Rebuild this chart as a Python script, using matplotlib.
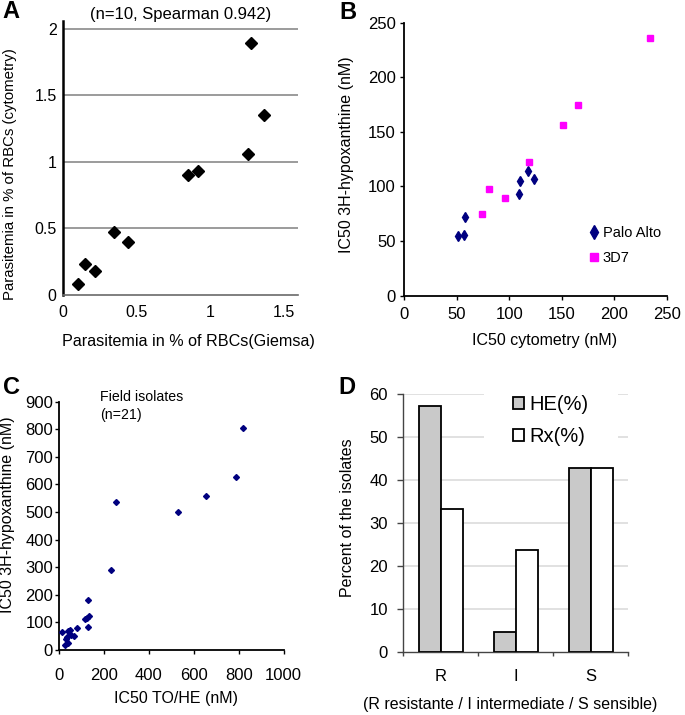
import matplotlib
matplotlib.use("Agg")
import matplotlib.pyplot as plt
import numpy as np

plt.rcParams['font.family'] = ['Liberation Sans', 'DejaVu Sans']

# ---------------- data ----------------
# Panel A: parasitemia Giemsa vs cytometry
giemsa = [0.10, 0.15, 0.22, 0.35, 0.44, 0.85, 0.92, 1.26, 1.28, 1.37]
cytometry = [0.08, 0.23, 0.18, 0.47, 0.40, 0.90, 0.93, 1.06, 1.89, 1.35]

# Panel B: IC50 cytometry vs 3H-hypoxanthine
pa_x = [51.4, 56.9, 58.1, 109.2, 110.5, 117.5, 123.2]
pa_y = [54.5, 55.2, 72.2, 92.7, 104.5, 114.5, 107.0]
d7_x = [74.0, 81.0, 96.2, 118.5, 150.8, 165.4, 234.0]
d7_y = [74.5, 97.6, 89.7, 122.5, 156.7, 174.3, 236.4]

# Panel C: field isolates
field_x = [12, 30, 39, 46, 34, 54, 64, 27, 39, 79, 128, 116, 124, 131, 128,
           232, 253, 530, 655, 790, 818]
field_y = [64, 39, 69, 74, 48, 54, 50, 18, 24, 81, 82, 112, 117, 124, 182,
           289, 536, 499, 558, 626, 805]

# Panel D: percent of isolates
categories = ['R', 'I', 'S']
he_pct = [57.1, 4.8, 42.9]
rx_pct = [33.3, 23.8, 42.9]

W, H = 685, 715
fig = plt.figure(figsize=(W / 100, H / 100), dpi=100)


def box(l, t, r, b):
    return [l / W, 1 - b / H, (r - l) / W, (b - t) / H]


def ftext(x, y, s, **kw):
    fig.text(x / W, 1 - y / H, s, **kw)


# ---------------- Panel A ----------------
axA = fig.add_axes(box(63, 20.7, 298.3, 295))
axA.plot(giemsa, cytometry, linestyle='none', marker='D', ms=6.2,
         color='black', zorder=3)
axA.set_xlim(0, 1.6)
axA.set_ylim(0, 2.06)
axA.set_xticks([0, 0.5, 1, 1.5])
axA.set_xticklabels(['0', '0.5', '1', '1.5'])
axA.set_yticks([0, 0.5, 1, 1.5, 2])
axA.set_yticklabels(['0', '0.5', '1', '1.5', '2'])
for yv in [0.5, 1, 1.5, 2]:
    axA.axhline(yv, color='#8a8a8a', lw=1.2, zorder=1)
axA.spines['top'].set_visible(False)
axA.spines['right'].set_visible(False)
axA.spines['left'].set_color('black')
axA.spines['left'].set_linewidth(1.8)
axA.spines['bottom'].set_color('#6a6a6a')
axA.spines['bottom'].set_linewidth(1.2)
axA.tick_params(length=0, labelsize=11.5)
axA.tick_params(axis='y', pad=4.5)
axA.tick_params(axis='x', pad=7)
ftext(181, 15, '(n=10, Spearman 0.942)', fontsize=12, ha='center', va='center')
ftext(188, 341, 'Parasitemia in % of RBCs(Giemsa)', fontsize=11.6,
      ha='center', va='center')
ftext(10, 174, 'Parasitemia in % of RBCs (cytometry)', fontsize=10.8,
      ha='center', va='center', rotation=90)
ftext(11, 12, 'A', fontsize=17, fontweight='bold', ha='center', va='center')

# ---------------- Panel B ----------------
axB = fig.add_axes(box(404.3, 22.7, 666.8, 295.5))
axB.plot(pa_x, pa_y, linestyle='none', marker='d', ms=5.0, color='#000080',
         label='Palo Alto', zorder=3)
axB.plot(d7_x, d7_y, linestyle='none', marker='s', ms=4.2, color='#ff00ff',
         label='3D7', zorder=3)
axB.set_xlim(0, 250)
axB.set_ylim(0, 250)
axB.set_xticks([0, 50, 100, 150, 200, 250])
axB.set_yticks([0, 50, 100, 150, 200, 250])
for s in ['top', 'right']:
    axB.spines[s].set_visible(False)
for s in ['left', 'bottom']:
    axB.spines[s].set_linewidth(1.3)
axB.tick_params(direction='out', length=3, width=1, labelsize=12)
axB.tick_params(axis='y', pad=3)
axB.tick_params(axis='x', pad=5)
axB.legend(loc='upper left', bbox_to_anchor=(0.70, 0.255), frameon=False,
           fontsize=10.5, markerscale=1.35, handlelength=0.8,
           handletextpad=0.2, labelspacing=0.75, borderpad=0,
           borderaxespad=0)
ftext(545, 340, 'IC50 cytometry (nM)', fontsize=11.5, ha='center', va='center')
ftext(347, 155, 'IC50 3H-hypoxanthine (nM)', fontsize=11.5,
      ha='center', va='center', rotation=90)
ftext(348, 12.5, 'B', fontsize=17, fontweight='bold', ha='center', va='center')

# ---------------- Panel C ----------------
axC = fig.add_axes(box(59.3, 401.7, 283.5, 650))
axC.plot(field_x, field_y, linestyle='none', marker='D', ms=3.0,
         color='#00007f', zorder=3)
axC.set_xlim(0, 1000)
axC.set_ylim(0, 900)
axC.set_xticks(np.arange(0, 1001, 200))
axC.set_yticks(np.arange(0, 901, 100))
for s in ['top', 'right']:
    axC.spines[s].set_visible(False)
for s in ['left', 'bottom']:
    axC.spines[s].set_linewidth(1.3)
axC.tick_params(direction='out', length=3, width=1, labelsize=12)
axC.tick_params(axis='y', pad=1.5)
axC.tick_params(axis='x', pad=10)
ftext(100, 397, 'Field isolates', fontsize=10.2, ha='left', va='center')
ftext(100, 415, '(n=21)', fontsize=10.2, ha='left', va='center')
ftext(176, 698, 'IC50 TO/HE (nM)', fontsize=11.5, ha='center', va='center')
ftext(8, 515, 'IC50 3H-hypoxanthine (nM)', fontsize=11.5,
      ha='center', va='center', rotation=90)
ftext(11.5, 388, 'C', fontsize=17, fontweight='bold', ha='center', va='center')

# ---------------- Panel D ----------------
axD = fig.add_axes(box(403.3, 394, 628.3, 652.3))
xpos = np.arange(len(categories))
bw = 0.29
axD.bar(xpos - bw / 2, he_pct, width=bw, color='#c9c9c9', edgecolor='black',
        linewidth=1.3, label='HE(%)', zorder=3)
axD.bar(xpos + bw / 2, rx_pct, width=bw, color='white', edgecolor='black',
        linewidth=1.3, label='Rx(%)', zorder=3)
axD.set_xlim(-0.5, 2.5)
axD.set_ylim(0, 60)
axD.set_yticks(np.arange(0, 61, 10))
for yv in np.arange(10, 61, 10):
    axD.axhline(yv, color='#dcdcdc', lw=1.2, zorder=1)
axD.set_xticks(xpos)
axD.set_xticklabels(categories)
axD.set_xticks([-0.5, 0.5, 1.5, 2.5], minor=True)
axD.tick_params(axis='x', which='major', length=0, pad=12, labelsize=12)
axD.tick_params(axis='x', which='minor', length=3, width=1, color='#444444')
axD.tick_params(axis='y', length=4, width=1, pad=7, labelsize=12,
                color='#444444')
for s in ['top', 'right']:
    axD.spines[s].set_visible(False)
for s in ['left', 'bottom']:
    axD.spines[s].set_color('#444444')
    axD.spines[s].set_linewidth(1.0)
legD = axD.legend(loc='upper left', bbox_to_anchor=(0.359, 1.11),
                  fontsize=14.5, frameon=True, facecolor='white',
                  edgecolor='none', framealpha=1, fancybox=False,
                  borderpad=1.45, borderaxespad=0, handlelength=0.55,
                  handleheight=0.55, handletextpad=0.25, labelspacing=0.68)
legD.set_zorder(2)
ftext(510, 705, '(R resistante / I intermediate / S sensible)', fontsize=11.5,
      ha='center', va='center')
ftext(347, 518, 'Percent of the isolates', fontsize=11.5,
      ha='center', va='center', rotation=90)
ftext(347, 387.5, 'D', fontsize=17, fontweight='bold', ha='center', va='center')

fig.savefig('out.png', dpi=100)
